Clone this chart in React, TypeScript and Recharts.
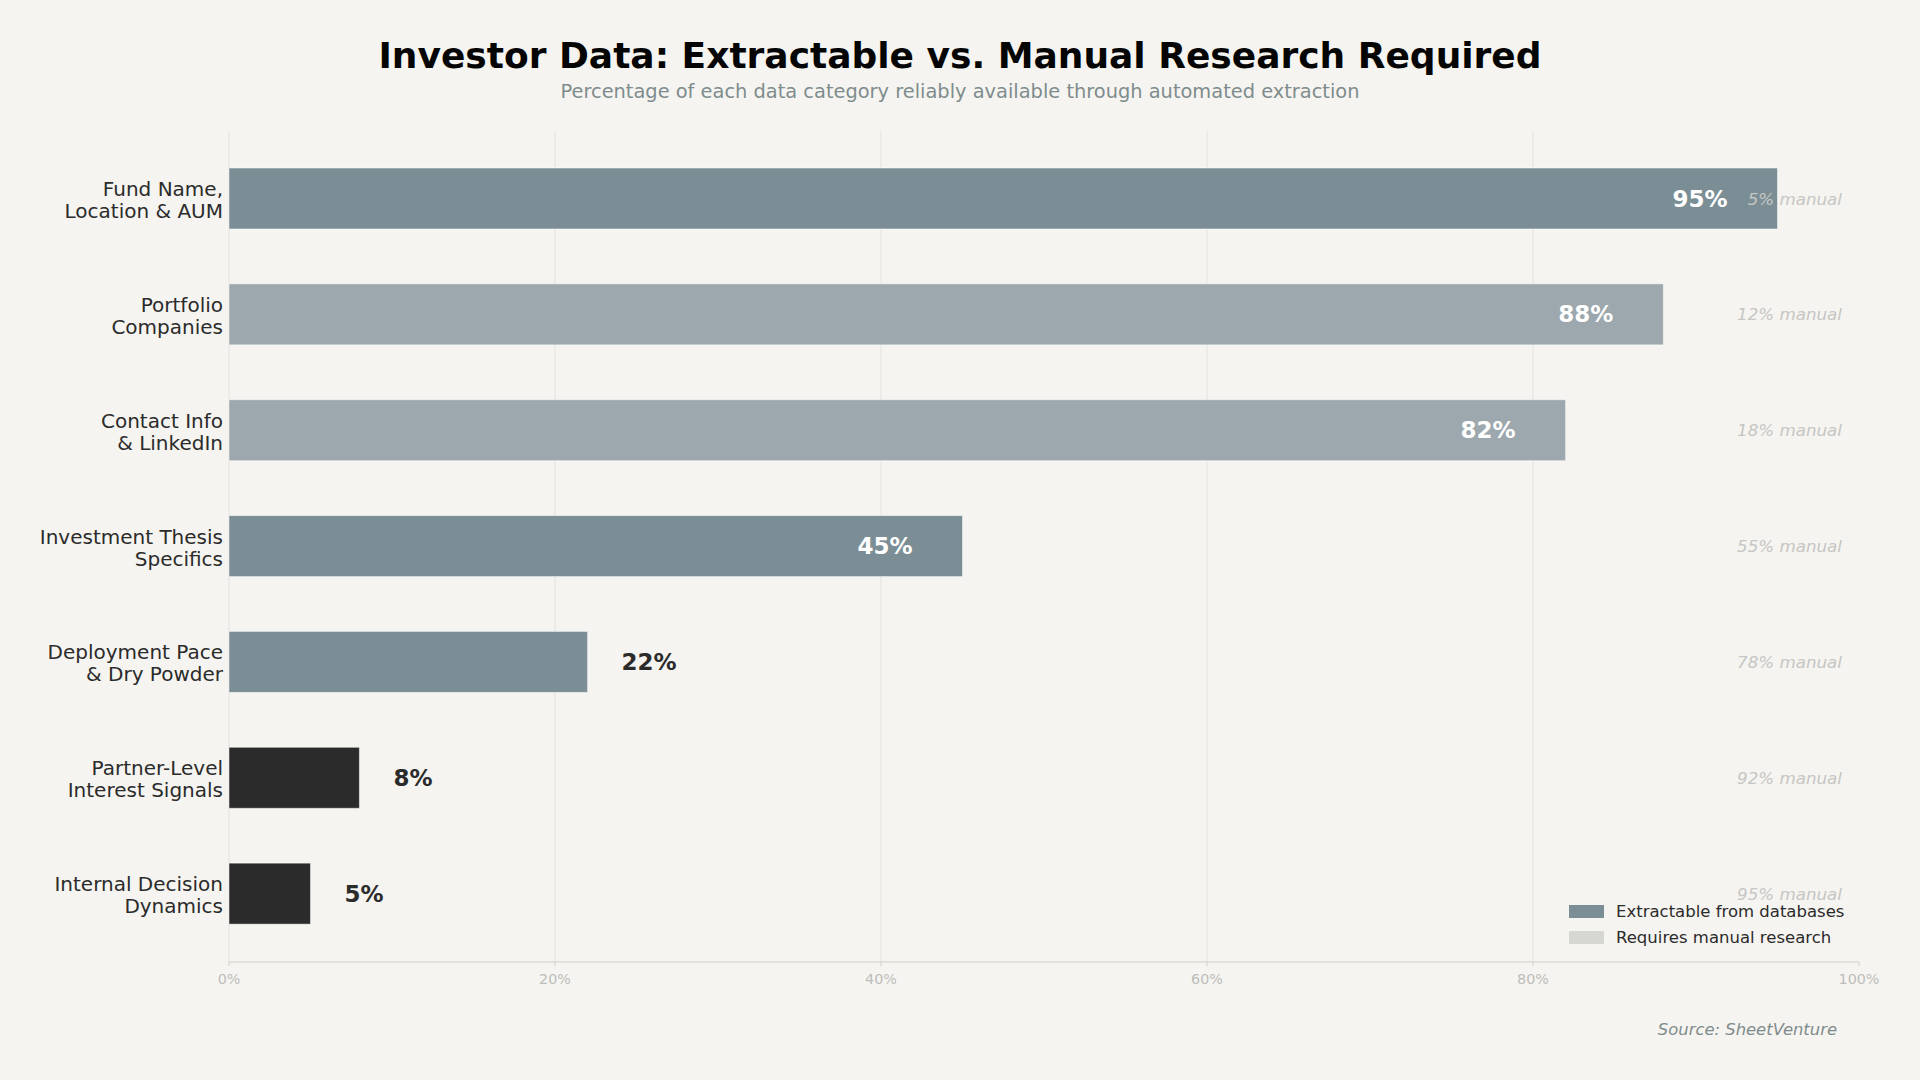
import React from 'react';
import {
  BarChart,
  Bar,
  XAxis,
  YAxis,
  CartesianGrid,
  LabelList,
  Legend,
} from 'recharts';

const categories = [
  'Fund Name,\nLocation & AUM',
  'Portfolio\nCompanies',
  'Contact Info\n& LinkedIn',
  'Investment Thesis\nSpecifics',
  'Deployment Pace\n& Dry Powder',
  'Partner-Level\nInterest Signals',
  'Internal Decision\nDynamics',
];
const extractable = [95, 88, 82, 45, 22, 8, 5];
const manual = [5, 12, 18, 55, 78, 92, 95];
const tiers = ['mid', 'light', 'light', 'mid', 'mid', 'dark', 'dark'];
const xTicks = [0, 20, 40, 60, 80, 100];
const gridValues = [0, 20, 40, 60, 80];

const FONT = '"DejaVu Sans", sans-serif';
const BG = '#f5f4f0';
const TIER_COLORS: Record<string, string> = {
  mid: '#7b8e95',
  light: '#9ca8ad',
  dark: '#2b2b2b',
};
const LEGEND_COLORS: Record<string, string> = {
  extractable: '#7b8e95',
  manual: '#d6d6d2',
};

const chartData = categories.map((name, i) => ({
  name,
  extractable: extractable[i],
  manual: manual[i],
  tier: tiers[i],
}));

function CategoryTick({ x, y, payload }: any) {
  const lines = String(payload.value).split('\n');
  return (
    <text
      x={x}
      y={y}
      textAnchor="end"
      fill="#2b2b2b"
      fontFamily={FONT}
      fontSize={20}
    >
      {lines.map((line, i) => (
        <tspan key={i} x={x} y={y + (i === 0 ? -3 : 19)}>
          {line}
        </tspan>
      ))}
    </text>
  );
}

function ValueLabel({ x, y, width, height, value }: any) {
  const inside = value >= 40;
  const cy = y + height / 2;
  return (
    <text
      x={inside ? x + width - 50 : x + width + 34}
      y={cy}
      textAnchor={inside ? 'end' : 'start'}
      dominantBaseline="central"
      fill={inside ? '#ffffff' : '#2b2b2b'}
      fontFamily={FONT}
      fontWeight="bold"
      fontSize={23}
    >
      {value}%
    </text>
  );
}

function ManualLabel({ x, y, width, height, value }: any) {
  return (
    <text
      x={x + width - 17}
      y={y + height / 2}
      textAnchor="end"
      dominantBaseline="central"
      fill="#c6c6c4"
      fontFamily={FONT}
      fontStyle="italic"
      fontSize={16.7}
    >
      {value}% manual
    </text>
  );
}

function LegendBox({ payload }: any) {
  return (
    <div style={{ fontFamily: FONT, fontSize: 16.5, color: '#2b2b2b' }}>
      {(payload || []).map((p: any) => (
        <div
          key={p.dataKey}
          style={{ display: 'flex', alignItems: 'center', height: 26 }}
        >
          <span
            style={{
              width: 35,
              height: 13,
              background: LEGEND_COLORS[p.dataKey],
              marginRight: 12,
              display: 'inline-block',
            }}
          />
          <span>{p.value}</span>
        </div>
      ))}
    </div>
  );
}

export default function App() {
  return (
    <div
      style={{
        position: 'relative',
        width: 1920,
        height: 1080,
        background: BG,
        fontFamily: FONT,
        overflow: 'hidden',
      }}
    >
      <style>{`body{margin:0;background:${BG};}`}</style>
      <div
        style={{
          position: 'absolute',
          top: 34,
          left: 0,
          width: 1920,
          textAlign: 'center',
          fontSize: 36,
          fontWeight: 'bold',
          color: '#050505',
          lineHeight: '44px',
        }}
      >
        Investor Data: Extractable vs. Manual Research Required
      </div>
      <div
        style={{
          position: 'absolute',
          top: 80,
          left: 0,
          width: 1920,
          textAlign: 'center',
          fontSize: 19.4,
          color: '#7f8c8d',
          lineHeight: '24px',
        }}
      >
        Percentage of each data category reliably available through automated extraction
      </div>

      <BarChart
        width={1920}
        height={1080}
        data={chartData}
        layout="vertical"
        margin={{ top: 131, right: 61, bottom: 88, left: 0 }}
        barSize={61}
        style={{ position: 'absolute', top: 0, left: 0 }}
      >
        <CartesianGrid
          horizontal={false}
          verticalValues={gridValues}
          stroke="#e3e2de"
          strokeWidth={1}
        />
        <XAxis
          type="number"
          domain={[0, 100]}
          ticks={xTicks}
          tickFormatter={(v) => `${v}%`}
          height={30}
          axisLine={{ stroke: '#cfcfcc' }}
          tickLine={{ stroke: '#cfcfcc' }}
          tickSize={4}
          tickMargin={8}
          tick={{ fill: '#bdbdbb', fontSize: 14.3, fontFamily: FONT }}
        />
        <YAxis
          type="category"
          dataKey="name"
          width={229}
          axisLine={false}
          tickLine={false}
          tickMargin={0}
          tickSize={6}
          padding={{ top: 10, bottom: 10 }}
          tick={<CategoryTick />}
          interval={0}
        />
        <Legend
          layout="horizontal"
          verticalAlign="middle"
          align="center"
          content={<LegendBox />}
          wrapperStyle={{ left: 1569, top: 898, width: 300 }}
        />
        <Bar
          dataKey="extractable"
          name="Extractable from databases"
          stackId="a"
          fill={TIER_COLORS.mid}
          isAnimationActive={false}
          shape={(props: any) => (
            <rect
              x={props.x}
              y={props.y}
              width={props.width}
              height={props.height}
              fill={TIER_COLORS[props.payload.tier]}
              stroke="#ffffff"
              strokeOpacity={0.5}
              strokeWidth={1}
            />
          )}
        >
          <LabelList dataKey="extractable" content={<ValueLabel />} />
        </Bar>
        <Bar
          dataKey="manual"
          name="Requires manual research"
          stackId="a"
          fill="transparent"
          isAnimationActive={false}
        >
          <LabelList dataKey="manual" content={<ManualLabel />} />
        </Bar>
      </BarChart>

      <div
        style={{
          position: 'absolute',
          top: 1019,
          right: 1920 - 1837,
          fontSize: 16.4,
          fontStyle: 'italic',
          color: '#7f8c8d',
          lineHeight: '22px',
        }}
      >
        Source: SheetVenture
      </div>
    </div>
  );
}
